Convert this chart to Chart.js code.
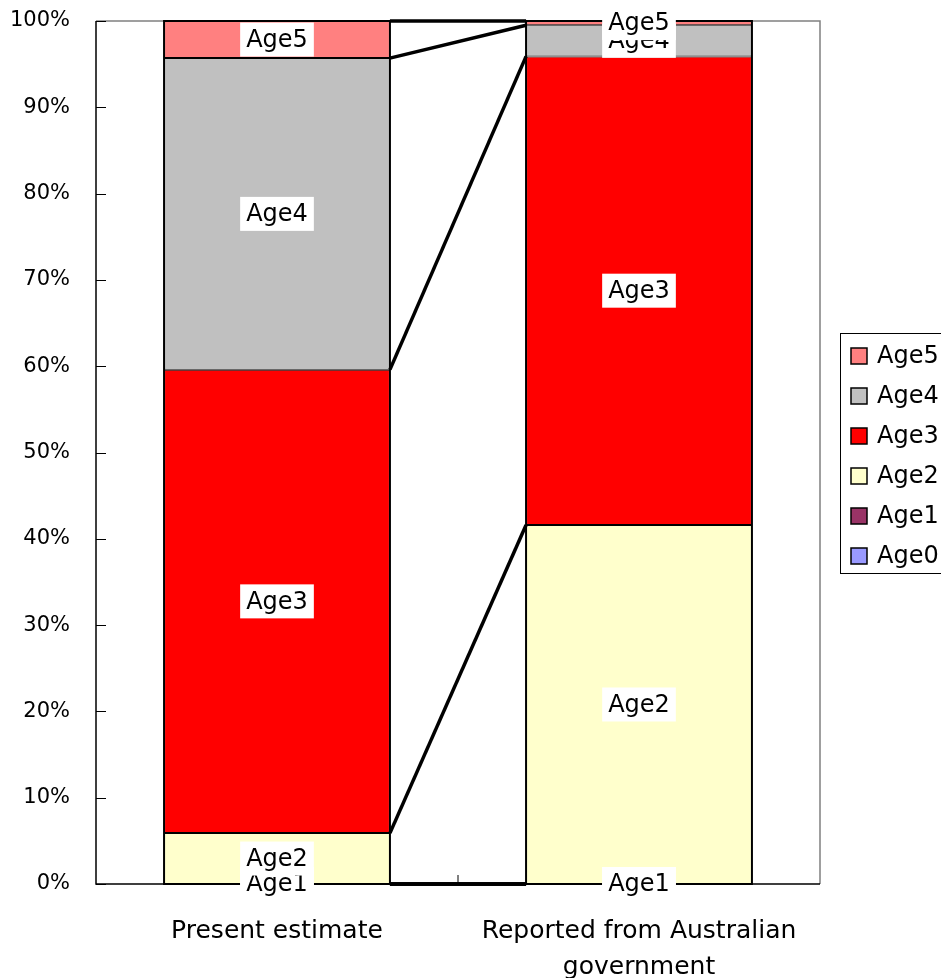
<!DOCTYPE html>
<html>
<head>
<meta charset="utf-8">
<script src="https://cdn.jsdelivr.net/npm/chart.js@4.4.1/dist/chart.umd.min.js"></script>
<style>
html,body{margin:0;padding:0;background:#fff;}
#wrap{width:941px;height:978px;position:relative;}
</style>
</head>
<body>
<div id="wrap"><canvas id="c" width="941" height="978"></canvas></div>
<script>
const categories = [["Present estimate"], ["Reported from Australian", "government"]];
const seriesNames = ["Age0", "Age1", "Age2", "Age3", "Age4", "Age5"];
const age0 = [0, 0];
const age1 = [0, 0];
const age2 = [5.9, 41.6];
const age3 = [53.7, 54.3];
const age4 = [36.1, 3.6];
const age5 = [4.3, 0.5];
const yTicks = [0, 10, 20, 30, 40, 50, 60, 70, 80, 90, 100];
const colors = ["#9999FF", "#993366", "#FFFFCC", "#FF0000", "#C0C0C0", "#FF8080"];
const seriesValues = [age0, age1, age2, age3, age4, age5];

const FONT = '"DejaVu Sans", sans-serif';

const datasets = seriesNames.map((n, i) => ({
  label: n,
  data: seriesValues[i],
  backgroundColor: colors[i],
  borderColor: "#000",
  borderWidth: 1,
  borderSkipped: false,
  inflateAmount: 0,
  barPercentage: 0.624,
  categoryPercentage: 1.0
}));

const overlay = {
  id: "overlay",
  afterDatasetsDraw(chart) {
    const ctx = chart.ctx;
    const ca = chart.chartArea;
    const xs = chart.scales.x, ys = chart.scales.y;
    ctx.save();
    // plot border (top & right gray)
    ctx.strokeStyle = "#808080";
    ctx.lineWidth = 1.5;
    ctx.beginPath();
    ctx.moveTo(ca.left, ca.top); ctx.lineTo(ca.right, ca.top); ctx.lineTo(ca.right, ca.bottom);
    ctx.stroke();
    // axes
    ctx.strokeStyle = "#000";
    ctx.lineWidth = 1.5;
    ctx.beginPath();
    ctx.moveTo(ca.left, ca.top); ctx.lineTo(ca.left, ca.bottom); ctx.lineTo(ca.right, ca.bottom);
    ctx.stroke();
    // y ticks inward
    ctx.lineWidth = 1;
    yTicks.forEach(v => {
      const py = Math.round(ys.getPixelForValue(v)) + 0.5;
      ctx.beginPath(); ctx.moveTo(ca.left, py); ctx.lineTo(ca.left + 10, py); ctx.stroke();
    });
    // x category divider tick
    const midX = (xs.getPixelForValue(0) + xs.getPixelForValue(1)) / 2;
    ctx.beginPath(); ctx.moveTo(midX, ca.bottom); ctx.lineTo(midX, ca.bottom - 9); ctx.stroke();

    // outer outline of each stack
    const first = chart.getDatasetMeta(0).data;
    const last = chart.getDatasetMeta(seriesNames.length - 1).data;
    ctx.lineWidth = 2;
    first.forEach((el, j) => {
      const top = last[j].y;
      ctx.strokeRect(el.x - el.width / 2, top, el.width, el.base - top);
    });

    // series lines
    const r0 = first[0].x + first[0].width / 2;
    const l1 = first[1].x - first[1].width / 2;
    ctx.lineWidth = 3.5;
    const levels = [[first[0].base, first[1].base]];
    for (let i = 0; i < seriesNames.length; i++) {
      const d = chart.getDatasetMeta(i).data;
      levels.push([d[0].y, d[1].y]);
    }
    levels.forEach(([a, b]) => {
      ctx.beginPath(); ctx.moveTo(r0, a); ctx.lineTo(l1, b); ctx.stroke();
    });

    // data labels (series names)
    ctx.font = "24px " + FONT;
    ctx.textAlign = "center";
    ctx.textBaseline = "middle";
    for (let i = 0; i < seriesNames.length; i++) {
      const d = chart.getDatasetMeta(i).data;
      d.forEach(el => {
        const cy = (el.y + el.base) / 2;
        const w = ctx.measureText(seriesNames[i]).width + 12;
        const h = 34;
        ctx.fillStyle = "#fff";
        ctx.fillRect(el.x - w / 2, cy - h / 2, w, h);
        ctx.fillStyle = "#000";
        ctx.fillText(seriesNames[i], el.x, cy + 1);
      });
    }

    // legend
    const lx = 840, ly = 333, lw = 110, lh = 240;
    ctx.fillStyle = "#fff";
    ctx.fillRect(lx, ly, lw, lh);
    ctx.strokeStyle = "#000";
    ctx.lineWidth = 1;
    ctx.strokeRect(lx + 0.5, ly + 0.5, lw, lh);
    ctx.textAlign = "left";
    for (let k = 0; k < seriesNames.length; k++) {
      const idx = seriesNames.length - 1 - k;
      const cy = 356 + k * 40;
      ctx.fillStyle = colors[idx];
      ctx.fillRect(851, cy - 8, 16, 16);
      ctx.lineWidth = 1.5;
      ctx.strokeRect(851, cy - 8, 16, 16);
      ctx.fillStyle = "#000";
      ctx.fillText(seriesNames[idx], 877, cy + 1);
    }
    ctx.restore();
  }
};

new Chart(document.getElementById("c"), {
  type: "bar",
  data: { labels: categories, datasets },
  options: {
    responsive: false,
    animation: false,
    devicePixelRatio: 1,
    layout: { padding: { top: 21, right: 121, left: 0, bottom: 0 } },
    plugins: { legend: { display: false }, tooltip: { enabled: false } },
    scales: {
      x: {
        stacked: true,
        grid: { display: false, drawTicks: false },
        border: { display: false },
        ticks: { color: "#000", font: { family: FONT, size: 25, lineHeight: 1.45 }, padding: 29, maxRotation: 0, autoSkip: false },
        afterFit(s) { s.height = 94; s.paddingLeft = 0; s.paddingRight = 0; }
      },
      y: {
        stacked: true,
        min: 0, max: 100,
        grid: { display: false, drawTicks: false },
        border: { display: false },
        ticks: {
          stepSize: 10,
          color: "#000",
          font: { family: FONT, size: 21 },
          padding: 26,
          callback: v => v + "%"
        },
        afterFit(s) { s.width = 96; s.paddingTop = 0; s.paddingBottom = 0; }
      }
    }
  },
  plugins: [overlay]
});
</script>
</body>
</html>
